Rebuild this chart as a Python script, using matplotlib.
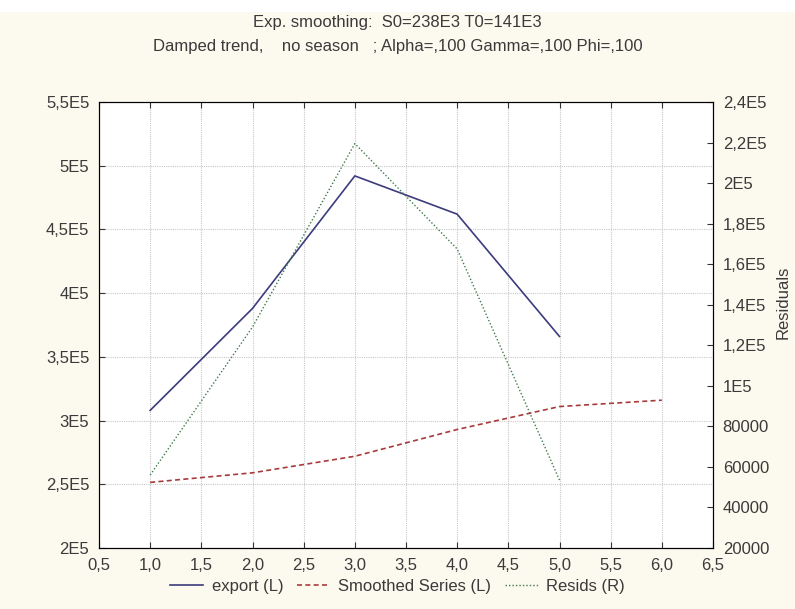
import matplotlib.pyplot as plt
from matplotlib.patches import Rectangle
from matplotlib.ticker import FuncFormatter, MultipleLocator

# data
x_export = [1, 2, 3, 4, 5]
export = [308000, 388000, 492000, 462000, 366000]
x_smooth = [1, 2, 3, 4, 5, 6]
smoothed = [251500, 259000, 272000, 293000, 311000, 316000]
x_resid = [1, 2, 3, 4, 5]
resids = [56000, 129000, 219500, 167500, 53500]

left_ticks = [200000, 250000, 300000, 350000, 400000, 450000, 500000, 550000]
right_ticks = [20000, 40000, 60000, 80000, 100000, 120000, 140000, 160000,
               180000, 200000, 220000, 240000]

plt.rcParams['font.family'] = ['Liberation Sans Narrow', 'Liberation Sans', 'DejaVu Sans']
plt.rcParams['font.size'] = 12
txt_col = '#3a3a3a'
plt.rcParams['text.color'] = txt_col
plt.rcParams['xtick.labelcolor'] = txt_col
plt.rcParams['ytick.labelcolor'] = txt_col
plt.rcParams['axes.labelcolor'] = txt_col

def sci_fmt(v, pos=None):
    # Statistica style: 5,5E5 / 4E5 / 80000
    if v < 100000:
        return '%d' % v
    m = v / 1e5
    s = ('%.1f' % m).rstrip('0').rstrip('.')
    return s.replace('.', ',') + 'E5'

fig = plt.figure(figsize=(7.95, 6.09), dpi=100, facecolor='white')
fig.patches.append(Rectangle((0, 0), 1, 1 - 12 / 609, transform=fig.transFigure,
                             facecolor='#fcf9ee', edgecolor='none', zorder=-10))

ax = fig.add_axes([99 / 795, 1 - 548 / 609, 614 / 795, 446 / 609])
ax.set_facecolor('white')
l1, = ax.plot(x_export, export, color='#3b3b7d', lw=1.2, label='export (L)')
l2, = ax.plot(x_smooth, smoothed, color='#a83a3a', lw=1.2, ls=(0, (3, 2)),
              label='Smoothed Series (L)')
ax.set_xlim(0.5, 6.5)
ax.set_ylim(200000, 550000)
ax.xaxis.set_major_locator(MultipleLocator(0.5))
ax.xaxis.set_major_formatter(FuncFormatter(lambda v, p: ('%.1f' % v).replace('.', ',')))
ax.set_yticks(left_ticks)
ax.yaxis.set_major_formatter(FuncFormatter(sci_fmt))
ax.grid(True, color='#c8c8c8', ls=(0, (1, 1)), lw=0.8)
ax.set_axisbelow(True)
ax.tick_params(direction='in', length=4, top=True, color='#333333', pad=7)
for sp in ax.spines.values():
    sp.set_color('#333333')

ax2 = ax.twinx()
l3, = ax2.plot(x_resid, resids, color='#3f7a4a', lw=1.0, ls=(0, (1, 1.5)),
               label='Resids (R)')
ax2.set_ylim(20000, 240000)
ax2.set_yticks(right_ticks)
ax2.yaxis.set_major_formatter(FuncFormatter(sci_fmt))
ax2.tick_params(direction='in', length=4, color='#333333', pad=7)
ax2.set_ylabel('Residuals', fontsize=12)
ax2.yaxis.set_label_coords((776 - 99) / 614, 0.55)

fig.text(0.5, 1 - 23 / 609, 'Exp. smoothing:  S0=238E3 T0=141E3', ha='center', va='center')
fig.text(0.5, 1 - 47 / 609, 'Damped trend,    no season   ; Alpha=,100 Gamma=,100 Phi=,100',
         ha='center', va='center')

fig.legend(handles=[l1, l2, l3], loc='center', bbox_to_anchor=(0.5, 1 - 586 / 609),
           ncol=3, frameon=False, handlelength=2.0, columnspacing=0.8, handletextpad=0.5)

fig.savefig('out.png', dpi=100, facecolor=fig.get_facecolor())
